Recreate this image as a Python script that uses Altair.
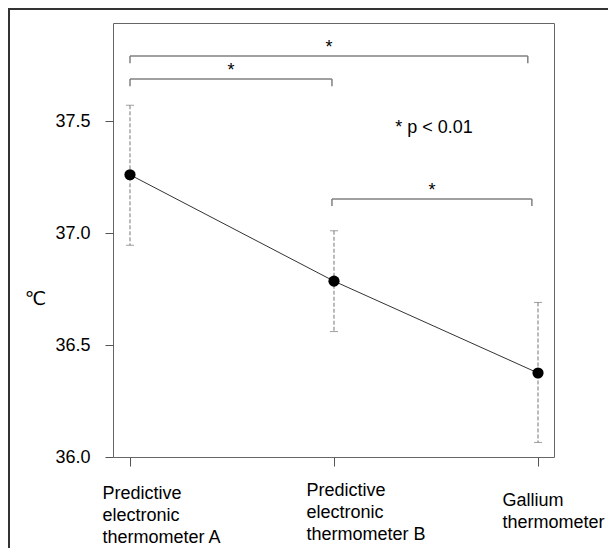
import altair as alt
import pandas as pd

# ---- data ----
label_lines = [
    ["Predictive", "electronic", "thermometer A"],
    ["Predictive", "electronic", "thermometer B"],
    ["Gallium", "thermometer"],
]
positions = [1, 2, 3]
means = [37.26, 36.785, 36.375]
upper = [37.57, 37.01, 36.69]
lower = [36.945, 36.56, 36.065]

bracket_start = [1.0, 1.0, 1.99]
bracket_end = [2.95, 1.99, 2.97]
bracket_y = [37.79, 37.6875, 37.152]
bracket_drop = 0.032

note_text = ["*  p < 0.01"]
note_x = [2.49]
note_y = [37.469]

y_ticks = [36.0, 36.5, 37.0, 37.5]

FONT = "Liberation Sans"

pts = pd.DataFrame({"pos": positions, "mean": means, "hi": upper, "lo": lower})
br = pd.DataFrame({"x1": bracket_start, "x2": bracket_end, "y": bracket_y})
br["mid"] = (br["x1"] + br["x2"]) / 2
br["ydrop"] = br["y"] - bracket_drop
br["star"] = "*"
note = pd.DataFrame({"t": note_text, "x": note_x, "y": note_y})

xs = alt.Scale(domain=[0.9167, 3.0784], nice=False, zero=False)
ys = alt.Scale(domain=[36.0, 37.9375], nice=False, zero=False)

def lab_expr():
    parts = []
    for p, lines in zip(positions, label_lines):
        arr = "[" + ",".join("'" + s + "'" for s in lines) + "]"
        parts.append((p, arr))
    expr = parts[-1][1]
    for p, arr in reversed(parts[:-1]):
        expr = f"datum.value == {p} ? {arr} : ({expr})"
    return expr

xaxis = alt.Axis(
    values=positions, labelExpr=lab_expr(), title=None, grid=False, domain=False,
    tickSize=9, tickColor="#555555", tickWidth=1,
    labelFont=FONT, labelFontSize=18, labelColor="#000000",
    labelAlign="left", labelBaseline="middle", labelLineHeight=22,
    labelOffset={"condition": {"test": "datum.value == 3", "value": -36}, "value": -28},
    labelPadding={"condition": [{"test": "datum.value == 1", "value": 27},
                                {"test": "datum.value == 3", "value": 34}], "value": 24},
    labelFlush=False, labelOverlap=False, labelBound=False,
)
yaxis = alt.Axis(
    values=y_ticks, format=".1f", grid=False, domain=False,
    tickSize=8, tickColor="#555555", tickWidth=1,
    labelFont=FONT, labelFontSize=18, labelColor="#000000", labelPadding=15,
    title="℃", titleAngle=0, titleX=-78, titleY=275, titleAlign="center",
    titleBaseline="middle", titleFont="DejaVu Sans", titleFontSize=19,
    titleFontWeight="normal", titleColor="#000000",
)

X = lambda f: alt.X(f, type="quantitative", scale=xs, axis=xaxis)
Y = lambda f: alt.Y(f, type="quantitative", scale=ys, axis=yaxis)

line = alt.Chart(pts).mark_line(color="#333333", strokeWidth=1).encode(x=X("pos"), y=Y("mean"))

err = alt.Chart(pts).mark_rule(color="#777777", strokeWidth=1, strokeDash=[4, 2]).encode(
    x=X("pos"), y=Y("hi"), y2="lo")
cap_hi = alt.Chart(pts).mark_tick(color="#777777", thickness=1, size=8, orient="horizontal",
                                  strokeDash=[3, 2]).encode(x=X("pos"), y=Y("hi"))
cap_lo = alt.Chart(pts).mark_tick(color="#777777", thickness=1, size=8, orient="horizontal",
                                  strokeDash=[3, 2]).encode(x=X("pos"), y=Y("lo"))

dots = alt.Chart(pts).mark_circle(color="#000000", opacity=1, size=125).encode(x=X("pos"), y=Y("mean"))

br_h = alt.Chart(br).mark_rule(color="#808080", strokeWidth=1.5).encode(x=X("x1"), x2="x2", y=Y("y"))
br_l = alt.Chart(br).mark_rule(color="#808080", strokeWidth=1.5).encode(x=X("x1"), y=Y("y"), y2="ydrop")
br_r = alt.Chart(br).mark_rule(color="#808080", strokeWidth=1.5).encode(x=X("x2"), y=Y("y"), y2="ydrop")
stars = alt.Chart(br).mark_text(font=FONT, fontSize=18, color="#000000", baseline="alphabetic",
                                dy=-3).encode(x=X("mid"), y=Y("y"), text="star")

note_mark = alt.Chart(note).mark_text(font=FONT, fontSize=18, color="#000000", baseline="middle",
                                      align="center").encode(x=X("x"), y=Y("y"), text="t")

frame = alt.Chart(pd.DataFrame({"a": [0]})).mark_rect(
    fillOpacity=0, stroke="#333333", strokeWidth=2).encode(
    x=alt.value(-104), y=alt.value(-14), x2=alt.value(700), y2=alt.value(700))

chart = alt.layer(
    frame, br_h, br_l, br_r, stars, note_mark, err, cap_hi, cap_lo, line, dots
).properties(
    width=441, height=434,
    padding={"left": 105, "top": 15, "right": 54, "bottom": 91},
    autosize=alt.AutoSizeParams(type="none"),
    background="#ffffff",
).configure_view(stroke="#666666", strokeWidth=1)

chart.save("out.html", embed_options={"renderer": "svg", "actions": False})
